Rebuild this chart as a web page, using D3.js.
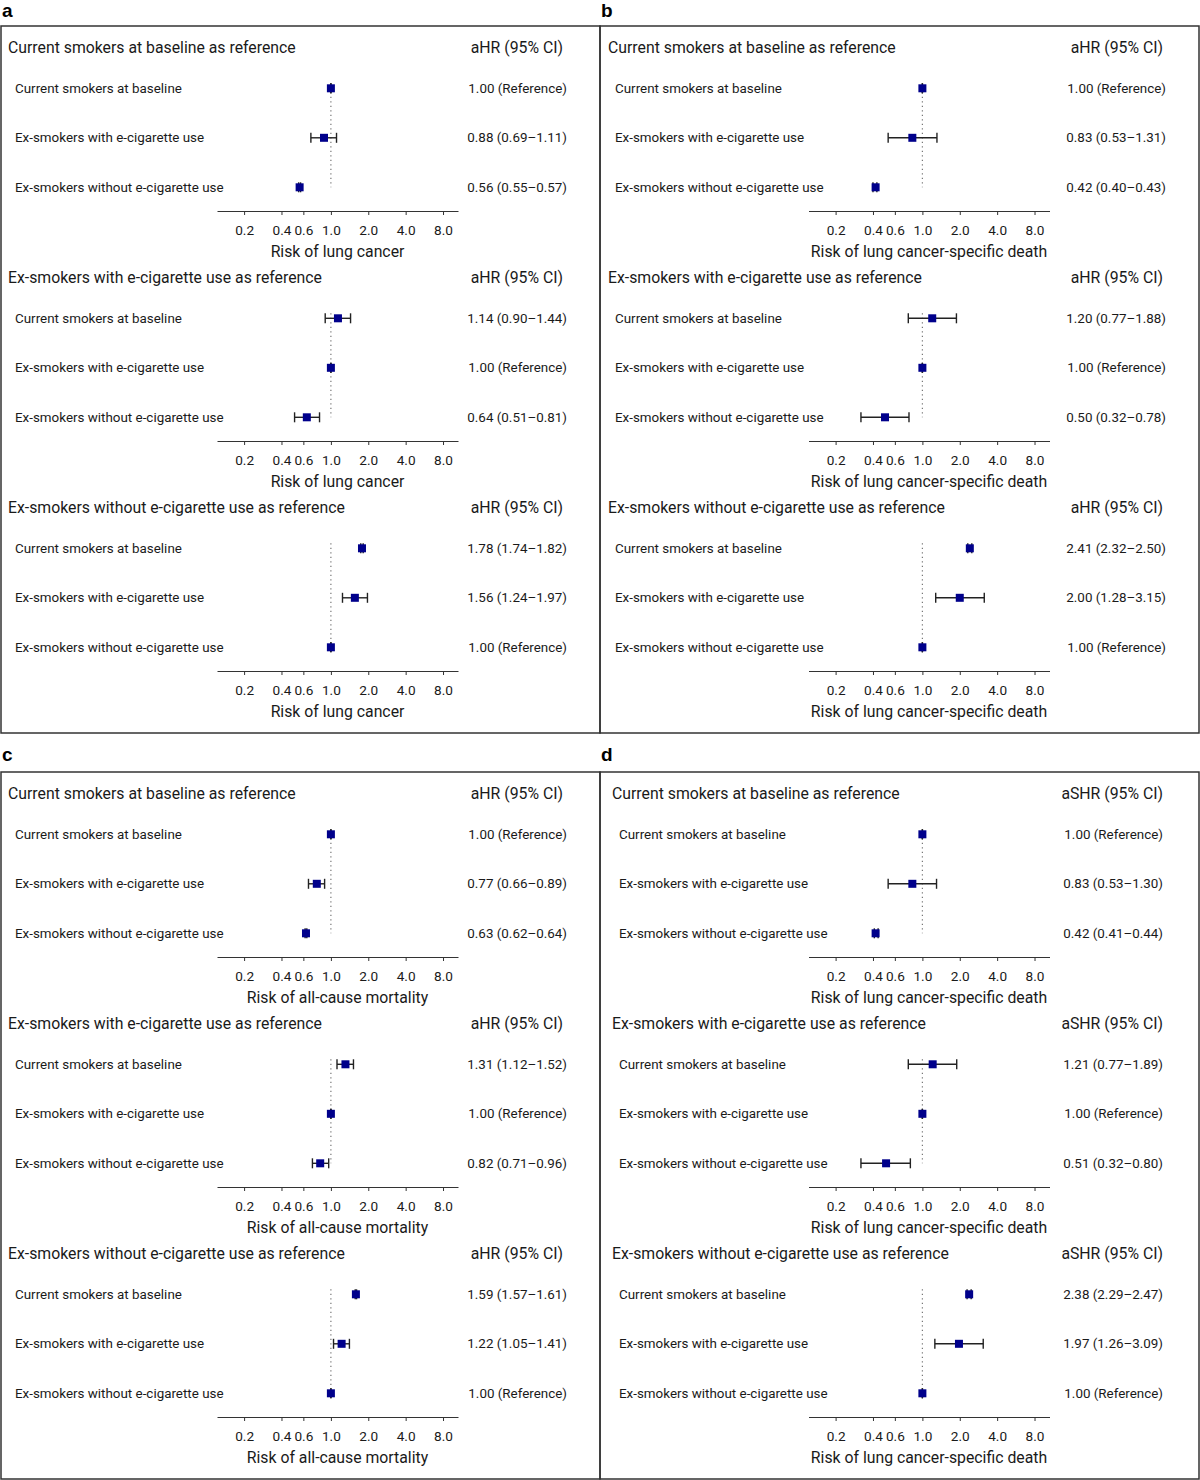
<!DOCTYPE html>
<html lang="en">
<head>
    <meta charset="UTF-8">
    <title>Forest plots: smoking status and e-cigarette use</title>
    <script src="https://cdn.jsdelivr.net/npm/d3@7"></script>
    <style>
        body { margin: 0; background: #fff; }
        svg { display: block; font-family: Roboto, "Noto Sans", sans-serif; }
        .title { font-size: 15.8px; fill: #1a1a1a; }
        .row { font-size: 13.4px; fill: #1a1a1a; }
        .axis text { font-size: 13.6px; fill: #1a1a1a; font-family: Roboto, "Noto Sans", sans-serif; }
        .axis path, .axis line { stroke: #333; }
        .panel-label { font-size: 19px; font-weight: bold; font-family: "Liberation Sans", Arial, sans-serif; }
    </style>
</head>
<body>
<svg width="1200" height="1480"></svg>
<script>
    // groups (rows) and reference groups (one sub-plot each)
    const categories = [
        "Current smokers at baseline",
        "Ex-smokers with e-cigarette use",
        "Ex-smokers without e-cigarette use"
    ];
    const refTitles = [
        "Current smokers at baseline as reference",
        "Ex-smokers with e-cigarette use as reference",
        "Ex-smokers without e-cigarette use as reference"
    ];
    const tickValues = [0.2, 0.4, 0.6, 1, 2, 4, 8];

    // [estimate, lower, upper] for each row, one block per reference group
    const lungCancer = [
        [[1.00, 1.00, 1.00], [0.88, 0.69, 1.11], [0.56, 0.55, 0.57]],
        [[1.14, 0.90, 1.44], [1.00, 1.00, 1.00], [0.64, 0.51, 0.81]],
        [[1.78, 1.74, 1.82], [1.56, 1.24, 1.97], [1.00, 1.00, 1.00]]
    ];
    const lungCancerDeath = [
        [[1.00, 1.00, 1.00], [0.83, 0.53, 1.31], [0.42, 0.40, 0.43]],
        [[1.20, 0.77, 1.88], [1.00, 1.00, 1.00], [0.50, 0.32, 0.78]],
        [[2.41, 2.32, 2.50], [2.00, 1.28, 3.15], [1.00, 1.00, 1.00]]
    ];
    const allCauseMortality = [
        [[1.00, 1.00, 1.00], [0.77, 0.66, 0.89], [0.63, 0.62, 0.64]],
        [[1.31, 1.12, 1.52], [1.00, 1.00, 1.00], [0.82, 0.71, 0.96]],
        [[1.59, 1.57, 1.61], [1.22, 1.05, 1.41], [1.00, 1.00, 1.00]]
    ];
    const lungCancerDeathSHR = [
        [[1.00, 1.00, 1.00], [0.83, 0.53, 1.30], [0.42, 0.41, 0.44]],
        [[1.21, 0.77, 1.89], [1.00, 1.00, 1.00], [0.51, 0.32, 0.80]],
        [[2.38, 2.29, 2.47], [1.97, 1.26, 3.09], [1.00, 1.00, 1.00]]
    ];

    const panels = [
        { label: "a", data: lungCancer, measure: "aHR", outcome: "Risk of lung cancer",
          x: 1, y: 26, labelY: 17, titleX: 8, rowX: 15, valueX: 567, headX: 563, axisX: 217 },
        { label: "b", data: lungCancerDeath, measure: "aHR", outcome: "Risk of lung cancer-specific death",
          x: 600, y: 26, labelY: 17, titleX: 608, rowX: 615, valueX: 1166, headX: 1163, axisX: 808.5 },
        { label: "c", data: allCauseMortality, measure: "aHR", outcome: "Risk of all-cause mortality",
          x: 1, y: 772, labelY: 761, titleX: 8, rowX: 15, valueX: 567, headX: 563, axisX: 217 },
        { label: "d", data: lungCancerDeathSHR, measure: "aSHR", outcome: "Risk of lung cancer-specific death",
          x: 600, y: 772, labelY: 761, titleX: 612, rowX: 619, valueX: 1163, headX: 1163, axisX: 808.5 }
    ];

    const svg = d3.select("svg");
    const boxW = 599, boxH = 707;
    const blockH = 230;
    const axisW = 241;
    const rowY = d3.scalePoint().domain(categories).range([62.3, 161.3]);
    const fmt = d3.format(".2f");

    function ciText(d) {
        if (d[0] === 1 && d[1] === 1 && d[2] === 1) return "1.00 (Reference)";
        return fmt(d[0]) + " (" + fmt(d[1]) + "\u2013" + fmt(d[2]) + ")";
    }

    panels.forEach(p => {
        svg.append("text")
            .attr("class", "panel-label")
            .attr("x", p.x + 1)
            .attr("y", p.labelY)
            .text(p.label);

        svg.append("rect")
            .attr("x", p.x)
            .attr("y", p.y)
            .attr("width", boxW)
            .attr("height", boxH)
            .attr("fill", "none")
            .attr("stroke", "#333")
            .attr("stroke-width", 1.5);

        const x = d3.scaleLog().base(2)
            .domain([0.121, 10.56])
            .range([p.axisX, p.axisX + axisW]);

        p.data.forEach((block, k) => {
            const top = p.y + k * blockH;
            const g = svg.append("g").attr("transform", `translate(0,${top})`);

            g.append("text").attr("class", "title")
                .attr("x", p.titleX).attr("y", 27)
                .text(refTitles[k]);
            g.append("text").attr("class", "title")
                .attr("x", p.headX).attr("y", 27)
                .attr("text-anchor", "end")
                .text(p.measure + " (95% CI)");

            // reference line at 1
            g.append("line")
                .attr("x1", x(1)).attr("x2", x(1))
                .attr("y1", rowY(categories[0]) - 5)
                .attr("y2", rowY(categories[2]))
                .attr("stroke", "#777")
                .attr("stroke-width", 1.2)
                .attr("stroke-dasharray", "1.2,3.3");

            const rows = g.selectAll("g.r")
                .data(block.map((d, i) => ({ cat: categories[i], v: d })))
                .enter().append("g")
                .attr("class", "r")
                .attr("transform", d => `translate(0,${rowY(d.cat)})`);

            rows.append("text").attr("class", "row")
                .attr("x", p.rowX).attr("y", 4.5)
                .text(d => d.cat);
            rows.append("text").attr("class", "row")
                .attr("x", p.valueX).attr("y", 4.5)
                .attr("text-anchor", "end")
                .text(d => ciText(d.v));

            // CI whiskers and caps
            rows.append("line")
                .attr("x1", d => x(d.v[1])).attr("x2", d => x(d.v[2]))
                .attr("stroke", "#222").attr("stroke-width", 1.4);
            rows.append("line")
                .attr("x1", d => x(d.v[1])).attr("x2", d => x(d.v[1]))
                .attr("y1", -5).attr("y2", 5)
                .attr("stroke", "#222").attr("stroke-width", 1.4);
            rows.append("line")
                .attr("x1", d => x(d.v[2])).attr("x2", d => x(d.v[2]))
                .attr("y1", -5).attr("y2", 5)
                .attr("stroke", "#222").attr("stroke-width", 1.4);

            rows.append("rect")
                .attr("x", d => x(d.v[0]) - 4)
                .attr("y", -4)
                .attr("width", 8).attr("height", 8)
                .attr("fill", "#00008b");

            g.append("g").attr("class", "axis")
                .attr("transform", "translate(0,185)")
                .call(d3.axisBottom(x)
                    .tickValues(tickValues)
                    .tickFormat(d3.format(".1f"))
                    .tickSize(4)
                    .tickSizeOuter(0)
                    .tickPadding(10));

            g.append("text").attr("class", "title")
                .attr("x", p.axisX + axisW / 2).attr("y", 231)
                .attr("text-anchor", "middle")
                .text(p.outcome);
        });
    });
</script>
</body>
</html>
